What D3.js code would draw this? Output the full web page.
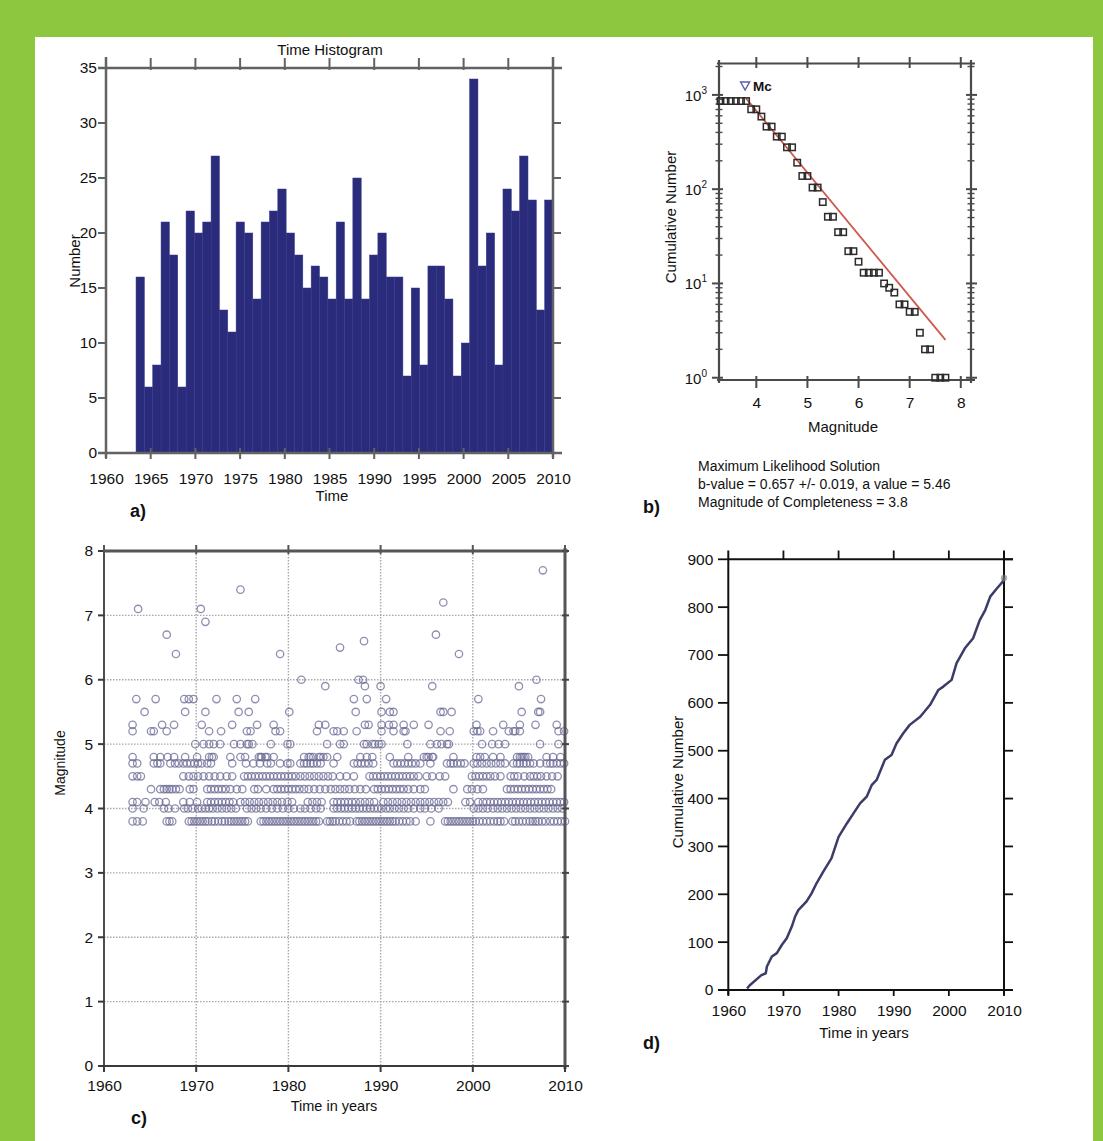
<!DOCTYPE html>
<html><head><meta charset="utf-8">
<script src="https://cdn.jsdelivr.net/npm/d3@7"></script>
<style>
body{margin:0;background:#fff}
svg{display:block}
text{font-family:"Liberation Sans",Arial,Helvetica,sans-serif;fill:#111}
</style></head>
<body><svg id="fig" width="1103" height="1141"></svg>
<script>
// ---------- DATA ----------
// a) time histogram: 50 equal bins between first and last event
const histCounts = [16,6,8,21,18,6,22,20,21,27,13,11,21,20,14,21,22,24,20,18,
  15,17,16,14,21,14,25,14,18,20,16,16,7,15,8,17,17,14,7,10,
  34,17,20,8,24,22,27,23,13,23];
const histStart = 1963.36, histEnd = 2010.0;
const yearTicks5 = [1960,1965,1970,1975,1980,1985,1990,1995,2000,2005,2010];
const countTicks = [0,5,10,15,20,25,30,35];

// b) frequency-magnitude distribution
const gutMags = [3.3,3.4,3.5,3.6,3.7,3.8,3.9,4.0,4.1,4.2,4.3,4.4,4.5,4.6,4.7,4.8,4.9,5.0,5.1,5.2,
  5.3,5.4,5.5,5.6,5.7,5.8,5.9,6.0,6.1,6.2,6.3,6.4,6.5,6.6,6.7,6.8,6.9,7.0,7.1,7.2,7.3,7.4,7.5,7.6,7.7];
const gutCum = [861,861,861,861,861,861,704,704,589,461,461,361,361,278,278,191,138,138,104,104,
  73,51,51,35,35,22,22,17,13,13,13,13,10,9,8,6,6,5,5,3,2,2,1,1,1];
const bValue = 0.657, aValue = 5.46, magCompleteness = 3.8;
const magTicks = [4,5,6,7,8];
const logTicks = [1,10,100,1000];
const solutionLines = ["Maximum Likelihood Solution","b-value = 0.657 +/- 0.019, a value = 5.46","Magnitude of Completeness = 3.8"];

// c) magnitude vs time, one array of event years per magnitude level
const ev38 = [1963.1,1963.6,1964.2,1966.8,1967.1,1967.4,1969.2,1969.5,1969.8,1970.1,1970.4,1970.7,1971.0,1971.3,1971.7,1972.0,1972.4,1972.8,1973.1,1973.5,1973.8,1974.1,1974.4,1974.7,1975.0,1975.3,1975.6,1977.0,1977.3,1977.6,1977.9,1978.2,1978.5,1978.8,1979.1,1979.4,1979.7,1980.0,1980.3,1980.6,1980.9,1981.2,1981.5,1981.8,1982.1,1982.4,1982.7,1983.0,1983.3,1984.2,1984.5,1984.8,1985.1,1985.5,1985.9,1986.3,1986.7,1987.4,1987.7,1988.0,1988.3,1988.6,1988.9,1989.2,1989.5,1989.8,1990.1,1990.4,1990.7,1991.0,1991.3,1991.6,1992.0,1992.4,1992.8,1993.2,1993.8,1995.4,1997.0,1997.3,1997.6,1997.9,1998.2,1998.5,1998.8,1999.1,1999.4,1999.7,2000.0,2000.3,2000.7,2001.1,2001.5,2001.9,2002.3,2002.7,2003.0,2003.4,2004.3,2004.6,2005.0,2005.4,2005.8,2006.2,2006.5,2006.8,2007.1,2007.5,2007.9,2008.4,2008.8,2009.2,2009.6,2010.0];
const ev40 = [1963.1,1964.3,1966.5,1967.0,1967.7,1968.7,1969.1,1969.6,1970.2,1970.6,1971.0,1971.4,1971.8,1972.3,1972.8,1973.3,1973.8,1974.3,1975.5,1976.0,1976.5,1977.0,1977.6,1978.2,1978.8,1979.4,1980.0,1980.6,1981.3,1981.8,1982.4,1983.0,1983.5,1984.9,1985.3,1985.7,1986.1,1986.5,1986.9,1987.3,1987.7,1988.1,1988.5,1988.9,1989.3,1989.7,1990.1,1990.6,1991.0,1991.5,1992.0,1992.5,1993.0,1993.6,1994.3,1994.8,1995.5,1996.3,2000.1,2000.6,2001.1,2001.6,2002.2,2002.7,2003.2,2003.7,2004.2,2004.7,2005.2,2005.7,2006.2,2006.7,2007.2,2007.7,2008.2,2008.7,2009.2,2009.7];
const ev41 = [1963.1,1963.6,1964.5,1965.5,1966.0,1966.7,1968.6,1969.3,1970.1,1971.2,1971.6,1972.0,1972.4,1972.8,1973.2,1973.6,1974.0,1974.8,1975.3,1975.8,1976.3,1976.8,1977.3,1977.8,1978.3,1978.8,1979.3,1979.9,1980.4,1982.1,1982.6,1983.1,1983.6,1984.9,1985.3,1985.7,1986.1,1986.5,1986.9,1987.3,1987.8,1988.3,1988.8,1989.3,1990.3,1990.8,1991.3,1991.8,1992.3,1992.8,1993.3,1993.8,1994.3,1994.8,1995.3,1995.8,1996.3,1996.8,1997.3,1999.2,1999.7,2000.6,2001.1,2001.5,2001.9,2002.3,2002.7,2003.1,2003.5,2003.9,2004.3,2004.7,2005.1,2005.5,2005.9,2006.3,2006.7,2007.1,2007.5,2007.9,2008.3,2008.7,2009.1,2009.5,2009.9];
const ev43 = [1965.1,1966.1,1966.5,1966.8,1967.1,1967.4,1967.8,1968.2,1969.3,1969.7,1971.2,1971.6,1972.0,1972.4,1972.8,1973.2,1973.7,1974.4,1975.0,1976.3,1976.7,1977.6,1978.4,1978.8,1979.2,1979.6,1980.0,1980.4,1980.8,1981.2,1981.7,1982.2,1982.8,1983.4,1984.0,1984.6,1985.1,1985.6,1986.1,1986.6,1987.2,1987.8,1988.4,1989.3,1989.7,1990.1,1990.5,1990.9,1991.3,1991.7,1992.1,1992.5,1993.0,1993.6,1994.3,1994.8,1997.9,1999.4,1999.9,2000.5,2001.1,2003.7,2004.1,2004.5,2004.9,2005.3,2005.7,2006.1,2006.5,2006.9,2007.3,2007.7,2008.1,2008.5];
const ev45 = [1963.1,1963.6,1964.0,1968.6,1969.2,1969.7,1970.2,1970.8,1971.4,1972.0,1972.6,1973.3,1973.9,1975.2,1975.6,1976.0,1976.4,1976.8,1977.2,1977.6,1978.0,1978.4,1978.8,1979.2,1979.6,1980.0,1980.4,1980.8,1981.3,1981.8,1982.3,1982.8,1983.3,1983.8,1984.3,1984.8,1985.6,1986.3,1987.1,1988.8,1989.2,1989.6,1990.0,1990.4,1990.8,1991.2,1991.6,1992.0,1992.4,1992.8,1993.2,1993.6,1994.1,1995.0,1995.6,1996.4,1997.0,1999.9,2000.3,2000.7,2001.1,2001.5,2001.9,2002.4,2003.0,2004.1,2004.5,2004.9,2005.6,2006.2,2006.6,2007.0,2007.4,2008.0,2008.6,2009.2];
const ev47 = [1963.1,1963.6,1965.4,1965.8,1966.1,1967.2,1967.7,1968.1,1968.6,1969.0,1969.4,1969.8,1970.2,1970.6,1971.2,1971.6,1973.9,1975.4,1976.2,1976.9,1977.7,1978.1,1979.1,1979.9,1980.2,1981.3,1981.7,1982.0,1982.4,1982.7,1983.1,1983.5,1984.9,1987.1,1987.5,1987.9,1988.3,1988.7,1989.2,1991.4,1991.8,1992.2,1992.6,1993.0,1993.4,1993.8,1994.3,1995.4,1997.2,1997.6,1997.9,1998.3,1998.7,1999.1,2000.1,2000.5,2001.0,2001.5,2002.0,2002.5,2003.0,2003.5,2004.4,2004.8,2005.1,2005.5,2005.8,2006.2,2006.6,2007.3,2008.0,2008.4,2008.7,2009.1,2009.5,2009.9];
const ev48 = [1963.1,1965.4,1966.1,1966.9,1967.6,1968.8,1970.1,1971.4,1971.7,1971.9,1973.7,1974.8,1975.3,1976.8,1977.0,1977.1,1977.5,1977.7,1978.4,1981.7,1982.2,1982.4,1982.7,1983.3,1983.5,1983.8,1984.2,1985.3,1987.8,1988.5,1989.1,1991.0,1993.0,1994.7,1995.0,1995.2,1995.6,1995.7,1997.9,2000.4,2000.8,2001.3,2002.2,2003.0,2004.8,2005.1,2005.3,2005.5,2005.7,2006.0,2008.0,2008.7,2009.5];
const ev50 = [1969.9,1970.8,1971.4,1971.9,1972.6,1974.1,1974.8,1975.5,1975.7,1976.1,1978.1,1979.9,1980.2,1984.2,1985.6,1986.0,1988.2,1988.5,1989.1,1989.4,1989.8,1990.1,1992.9,1995.4,1996.1,1996.6,1997.2,1997.4,2001.0,2002.1,2002.8,2003.5,2007.3,2009.3];
const ev52 = [1963.1,1965.1,1965.4,1966.8,1971.4,1972.7,1975.5,1975.9,1978.6,1979.1,1983.1,1984.9,1985.3,1986.0,1987.4,1990.1,1991.4,1992.5,1992.7,1996.5,1997.5,2000.1,2000.5,2000.8,2002.2,2003.9,2004.4,2004.6,2005.1,2009.3,2009.9];
const ev53 = [1963.1,1966.3,1967.6,1970.6,1973.9,1976.6,1978.4,1983.3,1984.0,1988.3,1988.7,1990.1,1990.9,1991.4,1992.5,1993.6,1995.2,2000.4,2003.3,2005.1,2006.8,2009.1];
const ev55 = [1964.4,1968.8,1971.0,1974.6,1975.7,1980.1,1987.3,1990.1,1991.0,1991.4,1996.5,1996.8,1997.7,2005.3,2007.1,2007.3];
const ev57 = [1963.5,1965.6,1968.7,1969.2,1969.7,1972.2,1974.4,1976.4,1987.1,1988.5,1990.6,2000.6,2007.4];
const ev59 = [1984.0,1988.3,1990.0,1995.6,2005.0];
const ev60 = [1981.4,1987.6,1988.1,2006.9];
const ev64 = [1967.8,1979.1,1998.5];
const ev65 = [1985.6];
const ev66 = [1988.2];
const ev67 = [1966.8,1996.0];
const ev69 = [1971.0];
const ev71 = [1963.7,1970.5];
const ev72 = [1996.8];
const ev74 = [1974.8];
const ev77 = [2007.6];
const magLevels = [3.8,4.0,4.1,4.3,4.5,4.7,4.8,5.0,5.2,5.3,5.5,5.7,5.9,6.0,6.4,6.5,6.6,6.7,6.9,7.1,7.2,7.4,7.7];
const yearTicks10 = [1960,1970,1980,1990,2000,2010];
const magAxisTicks = [0,1,2,3,4,5,6,7,8];

// d) cumulative number of events
const cumYears = [1963.4,1963.9,1966.0,1966.8,1967.0,1967.9,1968.8,1969.7,1970.6,1971.5,1972.1,1972.7,1974.2,1975.1,1976.0,1977.2,1978.7,1980.0,1981.5,1982.7,1983.9,1985.1,1986.0,1986.9,1988.4,1989.6,1990.5,1991.7,1992.9,1994.8,1996.6,1998.1,1999.0,2000.5,2001.4,2002.9,2004.4,2005.6,2006.6,2007.5,2008.7,2009.9,2010.0];
const cumCounts = [3,10,31,35,49,70,77,94,108,132,153,167,185,202,223,247,275,320,348,369,390,404,428,439,481,491,515,536,554,571,596,627,634,648,683,714,735,773,794,822,839,855,861];
const cumTicks = [0,100,200,300,400,500,600,700,800,900];

// ---------- DRAW ----------
const svg = d3.select("#fig");
svg.append("rect").attr("width",1103).attr("height",1141).attr("fill","#8dc63f");
svg.append("rect").attr("x",35).attr("y",37).attr("width",1058).attr("height",1104).attr("fill","#ffffff");

function line(g,x1,y1,x2,y2,c,w){ return g.append("line").attr("x1",x1).attr("y1",y1).attr("x2",x2).attr("y2",y2).attr("stroke",c).attr("stroke-width",w); }
function ticksV(g,vals,sc,y1,y2,c,w){ g.append("g").selectAll("line").data(vals).join("line")
  .attr("x1",d=>sc(d)).attr("x2",d=>sc(d)).attr("y1",y1).attr("y2",y2).attr("stroke",c).attr("stroke-width",w); }
function ticksH(g,vals,sc,x1,x2,c,w){ g.append("g").selectAll("line").data(vals).join("line")
  .attr("y1",d=>sc(d)).attr("y2",d=>sc(d)).attr("x1",x1).attr("x2",x2).attr("stroke",c).attr("stroke-width",w); }
function labelAxis(g,axis,tx,ty,fs){
  const a = g.append("g").attr("transform",`translate(${tx},${ty})`).call(axis);
  a.select(".domain").remove(); a.selectAll(".tick line").remove();
  a.selectAll("text").style("font-size",fs+"px").attr("fill","#111")
   .style("font-family",'"Liberation Sans",Arial,Helvetica,sans-serif');
  return a;
}
function txt(g,x,y,s,fs,opt={}){
  const t = g.append("text").attr("x",x).attr("y",y).text(s).style("font-size",fs+"px")
    .attr("text-anchor",opt.anchor||"middle");
  if(opt.bold) t.style("font-weight","bold");
  if(opt.rot) t.attr("transform",`rotate(-90,${x},${y})`);
  if(opt.fill) t.attr("fill",opt.fill);
  return t;
}

// ===== Panel a =====
{
  const g = svg.append("g");
  const x = d3.scaleLinear().domain([1960,2010]).range([106,553]);
  const y = d3.scaleLinear().domain([0,35]).range([453,68]);
  const w = (histEnd-histStart)/histCounts.length;
  g.selectAll("rect.bar").data(histCounts).join("rect")
    .attr("x",(d,i)=>x(histStart+i*w))
    .attr("width",(d,i)=>x(histStart+(i+1)*w)-x(histStart+i*w))
    .attr("y",d=>y(d)).attr("height",d=>y(0)-y(d))
    .attr("fill","#2a2c7b").attr("stroke","#34368a").attr("stroke-width",0.5);
  const fc="#626262";
  line(g,98,68,562,68,fc,2.5); line(g,98,453,562,453,fc,2.5);
  line(g,106,57,106,458,fc,2.5); line(g,553,57,553,458,fc,2.5);
  ticksH(g,countTicks,y,98,106,fc,2); ticksH(g,countTicks,y,553,561,fc,2);
  ticksV(g,yearTicks5,x,58,70,fc,2); ticksV(g,yearTicks5,x,448,459,fc,2);
  labelAxis(g,d3.axisLeft(y).tickValues(countTicks).tickSize(0).tickPadding(9),106,0,15.5);
  labelAxis(g,d3.axisBottom(x).tickValues(yearTicks5).tickFormat(d3.format("d")).tickSize(0).tickPadding(20),0,453,15.5);
  txt(g,330,55,"Time Histogram",15);
  txt(g,332,501,"Time",15);
  txt(g,80,261,"Number",15,{rot:true});
  txt(g,130,517,"a)",18,{anchor:"start",bold:true});
}

// ===== Panel b =====
{
  const g = svg.append("g");
  const x = d3.scaleLinear().domain([3.27,8.2]).range([719,971]);
  const y = d3.scaleLog().domain([0.946,2180]).range([380,63]);
  const fc="#4a4a4a";
  line(g,717,63.5,975,63.5,fc,2.2); line(g,717,380,975,380,fc,2.2);
  line(g,719,60,719,383,fc,2.2); line(g,971,60,971,383,fc,2.2);
  const minor = [];
  [1,10,100,1000].forEach(e=>{ for(let k=2;k<=9;k++){ const v=k*e; if(v<2180) minor.push(v);} });
  ticksH(g,minor,y,715.5,722.5,fc,1.4); ticksH(g,minor,y,967.5,974.5,fc,1.4);
  ticksH(g,logTicks,y,712,723,fc,2); ticksH(g,logTicks,y,966,977,fc,2);
  ticksV(g,magTicks,x,57,68,fc,2); ticksV(g,magTicks,x,376,388,fc,2);
  // fit line
  const fit = [magCompleteness, 7.7].map(m=>[m, Math.pow(10, aValue - bValue*m)]);
  g.append("path").datum(fit).attr("d",d3.line().x(d=>x(d[0])).y(d=>y(d[1])))
    .attr("stroke","#d0574c").attr("stroke-width",1.8).attr("fill","none");
  // squares
  const s=6.4;
  g.selectAll("rect.sq").data(gutMags.map((m,i)=>[m,gutCum[i]])).join("rect")
    .attr("x",d=>x(d[0])-s/2).attr("y",d=>y(d[1])-s/2).attr("width",s).attr("height",s)
    .attr("fill","none").attr("stroke","#2b2b2b").attr("stroke-width",1.5);
  // Mc marker
  const mx = x(magCompleteness)-1;
  g.append("path").attr("d",`M${mx-4.5},${82} L${mx+4.5},${82} L${mx},${90} Z`)
    .attr("fill","none").attr("stroke","#5860a8").attr("stroke-width",1.4);
  txt(g,mx+8,91,"Mc",13.5,{anchor:"start",bold:true,fill:"#5860a8"});
  // labels
  labelAxis(g,d3.axisBottom(x).tickValues(magTicks).tickFormat(d3.format("d")).tickSize(0).tickPadding(17),0,380,15.5);
  const yl = g.append("g").selectAll("text").data(logTicks).join("text")
    .attr("x",707).attr("y",d=>y(d)+6).attr("text-anchor","end").style("font-size","15px");
  yl.append("tspan").text("10");
  yl.append("tspan").attr("dy",-7).style("font-size","10px").text(d=>String(Math.round(Math.log10(d))));
  txt(g,843,432,"Magnitude",15);
  txt(g,676,217,"Cumulative Number",15,{rot:true});
  g.append("g").selectAll("text").data(solutionLines).join("text")
    .attr("x",698).attr("y",(d,i)=>471+i*18).text(d=>d).style("font-size","14px");
  txt(g,643,513,"b)",18,{anchor:"start",bold:true});
}

// ===== Panel c =====
{
  const g = svg.append("g");
  const x = d3.scaleLinear().domain([1960,2010]).range([104,565]);
  const y = d3.scaleLinear().domain([0,8]).range([1066,551]);
  const grid = g.append("g").attr("stroke","#a8a8a8").attr("stroke-width",1.4).attr("stroke-dasharray","1.5,1.5");
  grid.selectAll("line.gx").data([1970,1980,1990,2000]).join("line")
    .attr("x1",d=>x(d)).attr("x2",d=>x(d)).attr("y1",551).attr("y2",1066);
  grid.selectAll("line.gy").data([1,2,3,4,5,6,7]).join("line")
    .attr("y1",d=>y(d)).attr("y2",d=>y(d)).attr("x1",104).attr("x2",565);
  // events
  const rows = [ev38,ev40,ev41,ev43,ev45,ev47,ev48,ev50,ev52,ev53,ev55,ev57,ev59,ev60,ev64,ev65,ev66,ev67,ev69,ev71,ev72,ev74,ev77];
  const pts = [];
  rows.forEach((r,i)=>r.forEach(yr=>pts.push([yr,magLevels[i]])));
  g.append("g").selectAll("circle").data(pts).join("circle")
    .attr("cx",d=>x(d[0])).attr("cy",d=>y(d[1])).attr("r",3.7)
    .attr("fill","none").attr("stroke","rgb(105,105,150)").attr("stroke-opacity",0.75).attr("stroke-width",1.3);
  // frame
  line(g,104,548,104,1071,"#3a3a3a",1.8);
  line(g,99,1066,569,1066,"#3a3a3a",1.8);
  line(g,104,551,568,551,"#555",3);
  line(g,565,548,565,1069,"#555",3);
  ticksH(g,magAxisTicks,y,98,104,"#3a3a3a",2);
  ticksH(g,magAxisTicks,y,562,569,"#444",2);
  ticksV(g,yearTicks10,x,1066,1072,"#3a3a3a",2);
  ticksV(g,yearTicks10,x,545,554,"#555",2);
  labelAxis(g,d3.axisLeft(y).tickValues(magAxisTicks).tickSize(0).tickPadding(11),104,0,15.5);
  labelAxis(g,d3.axisBottom(x).tickValues(yearTicks10).tickFormat(d3.format("d")).tickSize(0).tickPadding(14),0,1066,15.5);
  txt(g,334,1111,"Time in years",14.5);
  txt(g,65,763,"Magnitude",14,{rot:true});
  txt(g,131,1124,"c)",18,{anchor:"start",bold:true});
}

// ===== Panel d =====
{
  const g = svg.append("g");
  const x = d3.scaleLinear().domain([1960,2010]).range([728.3,1004]);
  const y = d3.scaleLinear().domain([0,900]).range([990,559.3]);
  const c="#111";
  line(g,728.3,550.5,728.3,995,c,2); line(g,1004,550.5,1004,995,c,2);
  line(g,728.3,559.3,1013,559.3,c,2); line(g,718,990,1013,990,c,2);
  ticksH(g,cumTicks,y,718,728.3,c,1.8); ticksH(g,cumTicks,y,1004,1013,c,1.8);
  ticksV(g,yearTicks10,x,990,996,c,1.8); ticksV(g,[1970,1980,1990,2000],x,550.5,559.3,c,1.8);
  g.append("path").datum(cumYears.map((t,i)=>[t,cumCounts[i]]))
    .attr("d",d3.line().x(d=>x(d[0])).y(d=>y(d[1])))
    .attr("fill","none").attr("stroke","#3c3c68").attr("stroke-width",2.5).attr("stroke-linejoin","round");
  g.append("circle").attr("cx",x(cumYears[cumYears.length-1])).attr("cy",y(cumCounts[cumCounts.length-1]))
    .attr("r",3.2).attr("fill","#777").attr("opacity",0.6);
  labelAxis(g,d3.axisLeft(y).tickValues(cumTicks).tickSize(0).tickPadding(15),728.3,0,15.5);
  labelAxis(g,d3.axisBottom(x).tickValues(yearTicks10).tickFormat(d3.format("d")).tickSize(0).tickPadding(15),0,990,15.5);
  txt(g,864,1038,"Time in years",15);
  txt(g,683,782,"Cumulative Number",15,{rot:true});
  txt(g,643,1049,"d)",18,{anchor:"start",bold:true});
}
</script>
</body></html>
